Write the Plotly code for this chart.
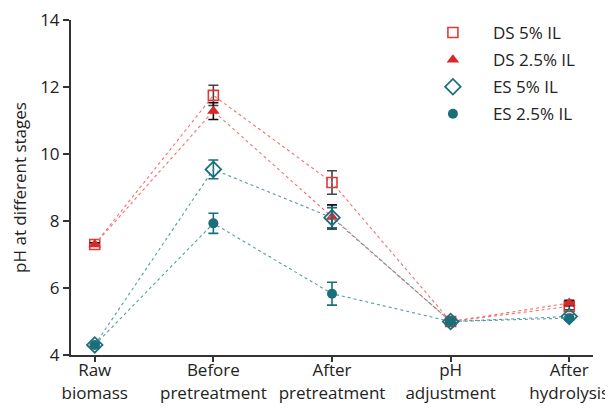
import plotly.graph_objects as go

stages = ["Raw<br>biomass", "Before<br>pretreatment", "After<br>pretreatment", "pH<br>adjustment", "After<br>hydrolysis"]
series_names = ["DS 5% IL", "DS 2.5% IL", "ES 5% IL", "ES 2.5% IL"]

ds5 = [7.3, 11.75, 9.15, 5.0, 5.45]
ds5_err = [0.05, 0.3, 0.35, 0.05, 0.1]
ds25 = [7.3, 11.28, 8.12, 5.0, 5.55]
ds25_err = [0.05, 0.25, 0.36, 0.05, 0.08]
es5 = [4.3, 9.54, 8.1, 5.0, 5.15]
es5_err = [0.03, 0.28, 0.3, 0.05, 0.06]
es25 = [4.3, 7.93, 5.83, 5.0, 5.1]
es25_err = [0.03, 0.3, 0.34, 0.05, 0.05]

y_ticks = [4, 6, 8, 10, 12, 14]

RED = "#e03a36"
RED_LINE = "#f07070"
TEAL = "#1b6f7a"
TEAL_LINE = "#5a9aa3"

x_idx = list(range(len(stages)))

specs = [
    (series_names[0], ds5, ds5_err, dict(symbol="square-open", size=10, color=RED, line=dict(width=1.6, color=RED)), RED_LINE, "#444444"),
    (series_names[1], ds25, ds25_err, dict(symbol="triangle-up", size=11, color="#d9282a"), RED_LINE, "#111111"),
    (series_names[2], es5, es5_err, dict(symbol="diamond-open", size=12, color=TEAL, line=dict(width=1.8, color=TEAL)), TEAL_LINE, TEAL),
    (series_names[3], es25, es25_err, dict(symbol="circle", size=10, color=TEAL), TEAL_LINE, TEAL),
]

fig = go.Figure()
for name, vals, errs, marker, lcol, ecol in specs:
    fig.add_trace(go.Scatter(
        x=x_idx, y=vals, name=name, mode="lines+markers", showlegend=False,
        line=dict(color=lcol, width=1.1, dash="dot"),
        marker=marker,
        error_y=dict(type="data", array=errs, visible=True, color=ecol, thickness=1.6, width=5),
    ))
# legend entries (markers only, no data)
for name, vals, errs, marker, lcol, ecol in specs:
    fig.add_trace(go.Scatter(x=[None], y=[None], name=name, mode="markers", marker=marker,
                             showlegend=True, legendgroup=name))

fig.update_layout(
    width=605, height=400,
    margin=dict(l=63, r=20, t=12, b=53, autoexpand=False),
    paper_bgcolor="white", plot_bgcolor="white",
    font=dict(family="Open Sans", size=17, color="#222222"),
    legend=dict(x=0.655, y=1.015, xanchor="left", yanchor="top",
                bgcolor="rgba(0,0,0,0)", traceorder="grouped",
                font=dict(size=17, color="#222222"), itemwidth=70, tracegroupgap=2),
    xaxis=dict(
        range=[-0.2, 4.2], tickmode="array", tickvals=x_idx, ticktext=stages,
        showline=True, linecolor="#333333", linewidth=2, ticks="outside", ticklen=5,
        tickwidth=2, tickcolor="#333333", showgrid=False, zeroline=False, automargin=False,
        tickfont=dict(size=17, color="#222222"), ticklabelstandoff=-6, ticklabeloverflow="allow",
    ),
    yaxis=dict(
        range=[4, 14], tickmode="array", tickvals=y_ticks,
        showline=True, linecolor="#333333", linewidth=2, ticks="outside", ticklen=6,
        tickwidth=2, tickcolor="#333333", showgrid=False, zeroline=False, automargin=False,
        tickfont=dict(size=17, color="#222222"), ticklabeloverflow="allow",
        title=dict(text="pH at different stages", font=dict(size=17, color="#222222"), standoff=18),
    ),
)

fig.write_html("out.html")
